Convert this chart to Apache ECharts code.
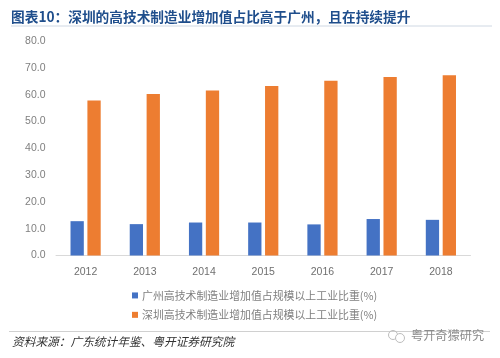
<!DOCTYPE html>
<html><head><meta charset="utf-8">
<style>html,body{margin:0;padding:0;background:#fff}#c{width:500px;height:358px}</style>
<script src="https://cdn.jsdelivr.net/npm/echarts@6/dist/echarts.min.js"></script>
</head><body><div id="c"></div>
<script>
const categories = ['2012','2013','2014','2015','2016','2017','2018'];
const guangzhou = [12.8,11.7,12.3,12.3,11.6,13.6,13.3];
const shenzhen = [57.8,60.2,61.5,63.2,65.2,66.6,67.2];
const nameGZ = '广州高技术制造业增加值占规模以上工业比重(%)';
const nameSZ = '深圳高技术制造业增加值占规模以上工业比重(%)';
const titleText = '图表10\uFF1A深圳的高技术制造业增加值占比高于广州\uFF0C且在持续提升';
const sourceText = '资料来源\uFF1A广东统计年鉴、粤开证券研究院';
const markText = '粤开奇獴研究';
const CJK = '"Noto Sans CJK SC","Liberation Sans",sans-serif';
const chart = echarts.init(document.getElementById('c'), null, {renderer:'canvas'});
chart.setOption({
  animation:false,
  backgroundColor:'#fff',
  grid:{left:56,right:29.5,top:41,bottom:102.5,containLabel:false},
  legend:{
    orient:'vertical',left:127,top:285,itemWidth:6,itemHeight:6,itemGap:8.5,
    icon:'rect',
    textStyle:{color:'#7f7f7f',fontSize:10.9,fontFamily:CJK,padding:[0,0,0,-1]},
    data:[nameGZ,nameSZ]
  },
  xAxis:{type:'category',data:categories,
    axisLine:{lineStyle:{color:'#d9d9d9',width:1}},axisTick:{show:false},
    axisLabel:{color:'#6f6f6f',fontSize:10.5,margin:11,fontFamily:'"Liberation Sans",sans-serif'}},
  yAxis:{type:'value',min:0,max:80,interval:10,
    splitLine:{show:false},axisLine:{show:false},axisTick:{show:false},
    axisLabel:{color:'#7f7f7f',fontSize:10.5,margin:10.5,formatter:v=>v.toFixed(1),fontFamily:'"Liberation Sans",sans-serif'}},
  series:[
    {name:nameGZ,type:'bar',data:guangzhou,barWidth:13.3,barGap:'27%',itemStyle:{color:'#4472c4'}},
    {name:nameSZ,type:'bar',data:shenzhen,barWidth:13.3,barGap:'27%',itemStyle:{color:'#ed7d31'}}
  ],
  graphic:[
    {type:'text',left:11,top:10,style:{text:titleText,fill:'#1f4e8c',font:'bold 13.7px '+CJK}},
    {type:'line',shape:{x1:11,y1:26,x2:492,y2:26},style:{stroke:'#cfd8e3',lineWidth:1}},
    {type:'line',shape:{x1:9,y1:331.5,x2:490,y2:331.5},style:{stroke:'#d0d0d0',lineWidth:1}},
    {type:'text',left:12,top:336,style:{text:sourceText,fill:'#333',font:'italic 11.7px '+CJK}},
    {type:'text',left:411,top:329.5,style:{text:markText,fill:'#8c8c8c',font:'12.2px '+CJK}},
    {type:'circle',shape:{cx:393,cy:335,r:4.5},style:{fill:'none',stroke:'#bdbdbd',lineWidth:1}},
    {type:'circle',shape:{cx:400,cy:338,r:4.5},style:{fill:'#fff',stroke:'#bdbdbd',lineWidth:1}}
  ]
});
</script></body></html>
